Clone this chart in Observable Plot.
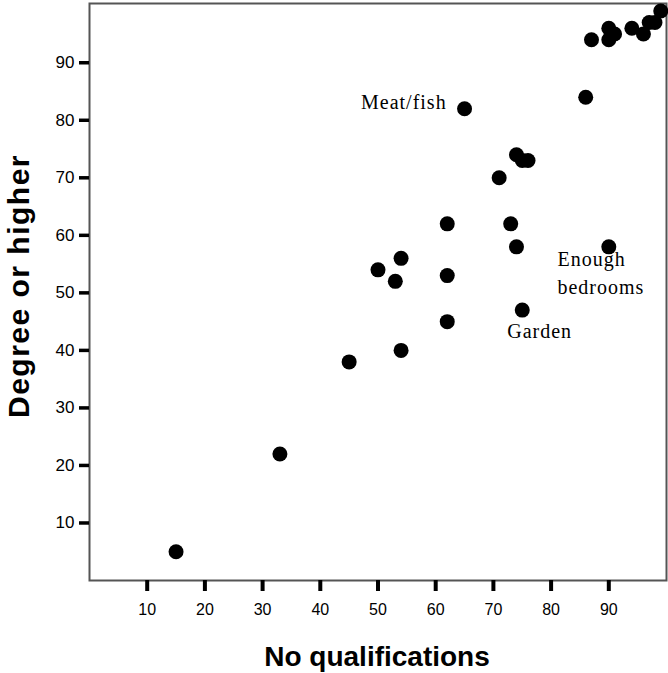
<!DOCTYPE html>
<html><head><meta charset="utf-8">
<script src="https://cdn.jsdelivr.net/npm/d3@7"></script>
<script src="https://cdn.jsdelivr.net/npm/@observablehq/plot@0.6"></script>
<style>body{margin:0;background:#fff}</style>
</head><body><div id="chart"></div>
<script>
const noQualifications = [15,33,45,50,53,54,54,62,62,62,65,71,73,74,74,75,76,75,86,90,87,90,90,91,94,96,97,98,99];
const degreeOrHigher   = [5,22,38,54,52,56,40,62,53,45,82,70,62,58,74,73,73,47,84,58,94,96,94,95,96,95,97,97,99];
const xTicks = [10,20,30,40,50,60,70,80,90];
const yTicks = [10,20,30,40,50,60,70,80,90];
const xTitle = "No qualifications";
const yTitle = "Degree or higher";
const labelText = ["Meat/fish","Enough","bedrooms","Garden"];
const labelX = [61.9, 81.1, 81.1, 72.4];
const labelY = [83.0, 55.7, 50.9, 43.3];
const labelAnchor = ["end","start","start","start"];

const points = noQualifications.map((x, i) => ({x, y: degreeOrHigher[i]}));
const labels = labelText.map((t, i) => ({t, x: labelX[i], y: labelY[i], a: labelAnchor[i]}));

const W = 668, H = 673, ML = 89, MR = 2, MT = 3, MB = 93;
const plotW = W - ML - MR, plotH = H - MT - MB;

const chart = Plot.plot({
  width: W, height: H,
  marginLeft: ML, marginRight: MR, marginTop: MT, marginBottom: MB,
  style: {fontFamily: "'Liberation Sans', Arial, sans-serif", color: "black", background: "white", overflow: "visible"},
  x: {domain: [0, 100]},
  y: {domain: [0, 100.3]},
  marks: [
    Plot.frame({stroke: "#555", strokeWidth: 2}),
    Plot.tickX(xTicks, {x: d => d, stroke: "black", strokeWidth: 4, insetTop: plotH, insetBottom: -11}),
    Plot.tickY(yTicks, {y: d => d, stroke: "black", strokeWidth: 3.5, insetRight: plotW, insetLeft: -10}),
    Plot.axisX(xTicks, {tickSize: 0, tickPadding: 23.6, fontSize: 16, label: null}),
    Plot.axisY(yTicks, {tickSize: 0, tickPadding: 15, fontSize: 17, label: null}),
    Plot.dot(points, {x: "x", y: "y", r: 7.5, fill: "black", stroke: null}),
    Plot.text(labels.filter(d => d.a === "end"), {x: "x", y: "y", text: "t", textAnchor: "end", fontSize: 20, fontFamily: "'Liberation Serif', 'Times New Roman', serif", fill: "black"}),
    Plot.text(labels.filter(d => d.a === "start"), {x: "x", y: "y", text: "t", textAnchor: "start", fontSize: 20, fontFamily: "'Liberation Serif', 'Times New Roman', serif", fill: "black"}),
    Plot.text([xTitle], {frameAnchor: "bottom", textAnchor: "middle", lineAnchor: "bottom", dy: 85, dx: -1, fontSize: 28, fontWeight: "bold", fill: "black"}),
    Plot.text([yTitle], {frameAnchor: "left", textAnchor: "middle", lineAnchor: "bottom", rotate: -90, dx: -61, dy: -6, fontSize: 30, fontWeight: "bold", fill: "black"})
  ]
});

chart.querySelectorAll("text").forEach(t => {
  const s = t.textContent;
  if (labelText.includes(s)) t.setAttribute("letter-spacing", "1px");
  if (s === yTitle) t.setAttribute("letter-spacing", "1.5px");
});

document.getElementById("chart").appendChild(chart);
</script>
</body></html>
